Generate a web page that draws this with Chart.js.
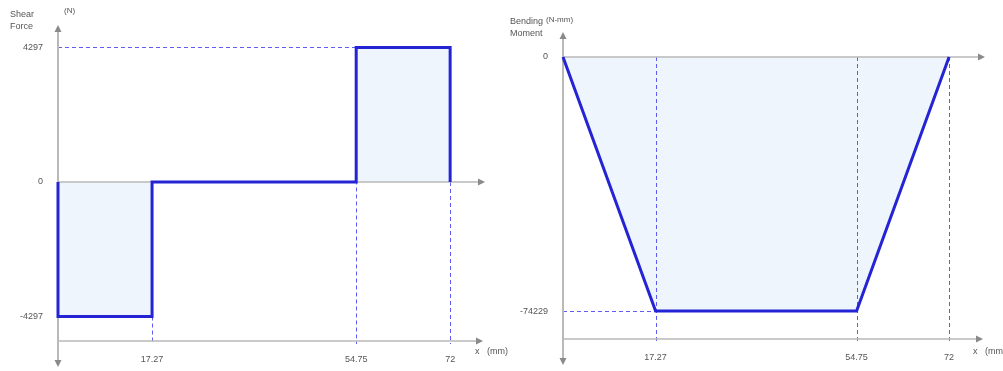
<!DOCTYPE html>
<html>
<head>
<meta charset="utf-8">
<script src="https://cdn.jsdelivr.net/npm/chart.js@4/dist/chart.umd.min.js"></script>
<style>
    html, body { margin: 0; padding: 0; background: #ffffff; }
    #wrap { position: relative; width: 1003px; height: 371px; overflow: hidden; }
    .box { position: absolute; top: 0; height: 371px; }
    .lbl { position: absolute; font: 9px Arial, "Liberation Sans", sans-serif; color: #555; line-height: 11px; white-space: nowrap; }
</style>
</head>
<body>
<div id="wrap">
    <div class="box" style="left:0;width:500px"><canvas id="shearChart"></canvas></div>
    <div class="box" style="left:500px;width:503px"><canvas id="momentChart"></canvas></div>

    <div class="lbl" style="left:10px;top:9px">Shear</div>
    <div class="lbl" style="left:10px;top:21px">Force</div>
    <div class="lbl" style="left:64px;top:5px;font-size:8px">(N)</div>
    <div class="lbl" style="left:475px;top:346px">x&nbsp;&nbsp;&nbsp;(mm)</div>

    <div class="lbl" style="left:510px;top:16px">Bending</div>
    <div class="lbl" style="left:510px;top:28px">Moment</div>
    <div class="lbl" style="left:546px;top:14px;font-size:8px">(N-mm)</div>
    <div class="lbl" style="left:973px;top:346px">x&nbsp;&nbsp;&nbsp;(mm)</div>
</div>

<script>
// beam stations (mm)
const stations = [0, 17.27, 54.75, 72];
const xTicks = [17.27, 54.75, 72];

// shear force diagram (N)
const shearX = [0, 0, 17.27, 17.27, 54.75, 54.75, 72, 72];
const shearY = [0, -4297, -4297, 0, 0, 4297, 4297, 0];
const shearTicks = [4297, 0, -4297];

// bending moment diagram (N-mm)
const momentX = [0, 17.27, 54.75, 72];
const momentY = [0, -74229, -74229, 0];
const momentTicks = [0, -74229];

const colors = {
    line: '#2424d4',
    fill: '#eef5fd',
    guide: '#5c5cf2',
    axis: '#b9b9b9',
    arrow: '#8a8a8a',
    text: '#555555'
};

function toPoints(xs, ys) {
    return xs.map(function (x, i) { return { x: x, y: ys[i] }; });
}

function arrowHead(ctx, x, y, dir) {
    ctx.save();
    ctx.fillStyle = colors.arrow;
    ctx.beginPath();
    if (dir === 'right') {
        ctx.moveTo(x, y); ctx.lineTo(x - 7, y - 3.5); ctx.lineTo(x - 7, y + 3.5);
    } else if (dir === 'up') {
        ctx.moveTo(x, y); ctx.lineTo(x - 3.5, y + 7); ctx.lineTo(x + 3.5, y + 7);
    } else {
        ctx.moveTo(x, y); ctx.lineTo(x - 3.5, y - 7); ctx.lineTo(x + 3.5, y - 7);
    }
    ctx.closePath();
    ctx.fill();
    ctx.restore();
}

// axes, zero line, arrows and dashed guide lines, drawn from the scales
const beamAxes = {
    id: 'beamAxes',
    beforeDatasetsDraw: function (chart) {
        const ctx = chart.ctx;
        const area = chart.chartArea;
        const xs = chart.scales.x;
        const ys = chart.scales.y;
        const cfg = chart.options.plugins.beamAxes;
        const x0 = xs.getPixelForValue(0);
        const y0 = ys.getPixelForValue(0);

        ctx.save();
        ctx.strokeStyle = colors.guide;
        ctx.lineWidth = 1;
        ctx.setLineDash([4, 3]);
        cfg.hGuides.forEach(function (g) {
            const y = Math.round(ys.getPixelForValue(g.y)) + 0.5;
            ctx.beginPath();
            ctx.moveTo(xs.getPixelForValue(g.from), y);
            ctx.lineTo(xs.getPixelForValue(g.to), y);
            ctx.stroke();
        });
        cfg.vGuides.forEach(function (g) {
            const x = Math.round(xs.getPixelForValue(g.x)) + 0.5;
            ctx.beginPath();
            ctx.moveTo(x, ys.getPixelForValue(g.from));
            ctx.lineTo(x, area.bottom + 3);
            ctx.stroke();
        });
        ctx.setLineDash([]);

        // zero line and bottom axis
        ctx.strokeStyle = colors.axis;
        ctx.lineWidth = 1.5;
        ctx.beginPath();
        ctx.moveTo(x0, y0);
        ctx.lineTo(area.right - 4, y0);
        ctx.moveTo(x0, area.bottom);
        ctx.lineTo(area.right - 6, area.bottom);
        ctx.stroke();

        // vertical axis
        ctx.lineWidth = 2;
        ctx.beginPath();
        ctx.moveTo(x0, area.top + 4);
        ctx.lineTo(x0, area.bottom + 22);
        ctx.stroke();
        ctx.restore();

        arrowHead(ctx, area.right, y0, 'right');
        arrowHead(ctx, area.right - 2, area.bottom, 'right');
        arrowHead(ctx, x0, area.top, 'up');
        arrowHead(ctx, x0, area.bottom + 26, 'down');
    }
};

function makeChart(canvasId, points, yTicks, yMin, yMax, xMax, sizes, guides) {
    return new Chart(document.getElementById(canvasId), {
        type: 'line',
        data: {
            datasets: [{
                data: points,
                borderColor: colors.line,
                backgroundColor: colors.fill,
                borderWidth: 3,
                pointRadius: 0,
                tension: 0,
                fill: 'origin',
                clip: false,
                borderJoinStyle: 'miter'
            }]
        },
        options: {
            responsive: false,
            animation: false,
            layout: { padding: { top: sizes.top, right: sizes.right, left: 0, bottom: 0 } },
            plugins: {
                legend: { display: false },
                tooltip: { enabled: false },
                filler: { drawTime: 'beforeDraw' },
                beamAxes: guides
            },
            scales: {
                x: {
                    type: 'linear',
                    min: 0,
                    max: xMax,
                    grid: { display: false },
                    border: { display: false },
                    afterBuildTicks: function (s) { s.ticks = xTicks.map(function (v) { return { value: v }; }); },
                    afterFit: function (s) { s.height = sizes.xHeight; },
                    ticks: {
                        autoSkip: false,
                        maxRotation: 0,
                        padding: 5,
                        color: colors.text,
                        font: { family: 'Arial, "Liberation Sans", sans-serif', size: 9 },
                        callback: function (v) { return String(v); }
                    }
                },
                y: {
                    type: 'linear',
                    min: yMin,
                    max: yMax,
                    grid: { display: false },
                    border: { display: false },
                    afterBuildTicks: function (s) { s.ticks = yTicks.map(function (v) { return { value: v }; }); },
                    afterFit: function (s) { s.width = sizes.yWidth; },
                    ticks: {
                        autoSkip: false,
                        padding: 7,
                        color: colors.text,
                        font: { family: 'Arial, "Liberation Sans", sans-serif', size: 9 },
                        callback: function (v) { return String(v); }
                    }
                }
            }
        },
        plugins: [beamAxes]
    });
}

document.addEventListener('DOMContentLoaded', function () {
    const shearCanvas = document.getElementById('shearChart');
    shearCanvas.width = 500; shearCanvas.height = 371;
    const momentCanvas = document.getElementById('momentChart');
    momentCanvas.width = 503; momentCanvas.height = 371;

    const shearPeak = Math.max.apply(null, shearY);
    makeChart('shearChart', toPoints(shearX, shearY), shearTicks,
        -shearPeak * 1.182, shearPeak * 1.167, 78.4,
        { top: 25, right: 15, yWidth: 58, xHeight: 30 },
        {
            hGuides: [{ y: shearY[5], from: 0, to: stations[2] }],
            vGuides: [
                { x: stations[1], from: shearY[1] },
                { x: stations[2], from: shearY[5] },
                { x: stations[3], from: 0 }
            ]
        });

    const momentPeak = Math.min.apply(null, momentY);
    makeChart('momentChart', toPoints(momentX, momentY), momentTicks,
        momentPeak * 1.11, -momentPeak * 0.0984, 78.7,
        { top: 32, right: 18, yWidth: 63, xHeight: 32 },
        {
            hGuides: [{ y: momentY[1], from: 0, to: stations[1] }],
            vGuides: [
                { x: stations[1], from: 0 },
                { x: stations[2], from: 0 },
                { x: stations[3], from: 0 }
            ]
        });
});
</script>
</body>
</html>
